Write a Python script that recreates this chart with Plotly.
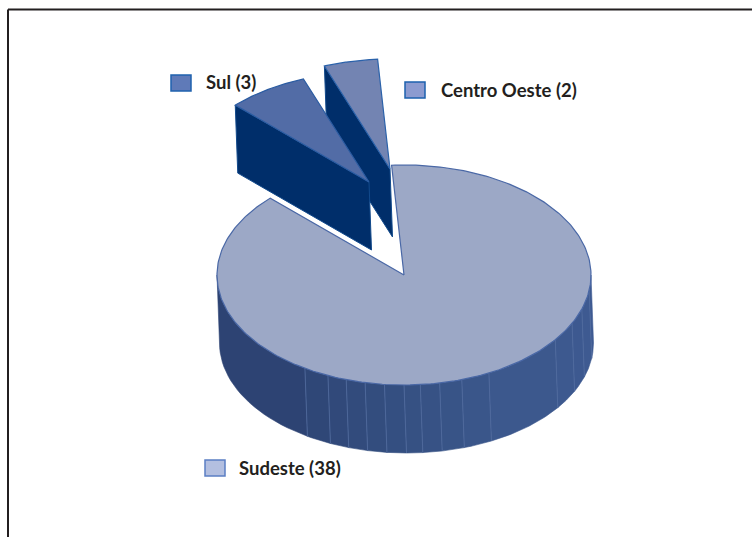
import numpy as np
import plotly.graph_objects as go

# Regional counts, drawn clockwise from the top of the pie
regions = ["Sudeste", "Sul", "Centro Oeste"]
counts = [38, 3, 2]

# Angles (degrees clockwise from the bottom of the pie) where the rim has a facet seam
rim_seams = [-32, -24, -18, -12, -6, 0, 5, 11, 18, 27, 54, 64, 72, 82]

FIRST_EDGE = -3.8          # clockwise angle of the first slice edge, from the top
CX, CY = 404.0, 275.0      # centre of the main top face
RX, RY = 187.0, 110.0      # radii of the projected top face
DROP = (2.5, 68.0)         # offset from the top face to the bottom face

# Per-slice styling and explode offset relative to the pie centre
pull = {"Sudeste": (0, 0), "Sul": (-35, -93), "Centro Oeste": (-14, -106)}
top_fill = {"Sudeste": "#9ca8c6", "Sul": "#526ca6", "Centro Oeste": "#7384b2"}
top_edge = {"Sudeste": "#4a68a6", "Sul": "#2b5ca2", "Centro Oeste": "#2b62aa"}
WALL_NAVY = "#002e6a"

# Legend keys: left, top, right, bottom, fill, border
key_box = {
    "Sul": (171, 75, 191, 91, "#5f7ab8", "#1f62ae"),
    "Centro Oeste": (405, 82, 425, 98, "#8c9bd0", "#1c62ae"),
    "Sudeste": (205, 460, 225, 476, "#b3bfe0", "#5b7fc4"),
}
label_at = {"Sul": (206, 82), "Centro Oeste": (441, 90), "Sudeste": (239, 468)}


def rim(cx, cy, a_from, a_to, n=80):
    """Points along the projected circle between two clockwise angles."""
    a = np.radians(np.linspace(a_from, a_to, n))
    return cx + RX * np.sin(a), cy - RY * np.cos(a)


def polygon(xs, ys, fill, line=None, width=1.0):
    return go.Scatter(
        x=list(xs), y=list(ys), mode="lines", fill="toself", fillcolor=fill,
        line=dict(color=line or fill, width=width), hoverinfo="skip", showlegend=False,
    )


def mix(t):
    """Rim colour, darker on the left of the pie and lighter on the right."""
    stops = [-90, -30, 0, 30, 90]
    r = np.interp(t, stops, [44, 47, 53, 60, 62])
    g = np.interp(t, stops, [64, 70, 80, 88, 90])
    b = np.interp(t, stops, [112, 118, 130, 140, 146])
    return f"rgb({r:.0f},{g:.0f},{b:.0f})"


# Slice extents follow directly from the counts
total = sum(counts)
span = {}
start = FIRST_EDGE
for name, count in zip(regions, counts):
    span[name] = (start, start + 360.0 * count / total)
    start = span[name][1]

traces = []

# Pulled-out slices, back one first: the cut wall on the counter-clockwise edge, then the top
for name in ["Centro Oeste", "Sul"]:
    a0, a1 = span[name]
    a0, a1 = a0 - 360, a1 - 360
    ax, ay = CX + pull[name][0], CY + pull[name][1]
    ex, ey = rim(ax, ay, a0, a0, 2)
    wall_x = [ex[0], ax, ax + DROP[0], ex[0] + DROP[0], ex[0]]
    wall_y = [ey[0], ay, ay + DROP[1], ey[0] + DROP[1], ey[0]]
    traces.append(polygon(wall_x, wall_y, WALL_NAVY, "#124a8c", 1.0))
    rx, ry = rim(ax, ay, a0, a1)
    traces.append(polygon([ax, *rx, ax], [ay, *ry, ay], top_fill[name], top_edge[name], 1.2))

# Main slice: rim facets along the visible front half, split at the seams
edges = [-90] + rim_seams + [90]
for lo, hi in zip(edges[:-1], edges[1:]):
    tx, ty = rim(CX, CY, 180 - lo, 180 - hi, 24)
    bx, by = tx + DROP[0], ty + DROP[1]
    traces.append(polygon([*tx, *bx[::-1], tx[0]], [*ty, *by[::-1], ty[0]],
                          mix((lo + hi) / 2), None, 0.6))
for seam in rim_seams:
    tx, ty = rim(CX, CY, 180 - seam, 180 - seam, 2)
    traces.append(go.Scatter(
        x=[tx[0], tx[0] + DROP[0]], y=[ty[0], ty[0] + DROP[1]], mode="lines",
        line=dict(color="#526c9f", width=0.8), hoverinfo="skip", showlegend=False,
    ))

a0, a1 = span["Sudeste"]
rx, ry = rim(CX, CY, a0, a1, 300)
traces.append(polygon([CX, *rx, CX], [CY, *ry, CY], top_fill["Sudeste"], top_edge["Sudeste"], 1.2))

fig = go.Figure(traces)

# Legend keys and their labels sit next to the pie rather than in a box
for name in regions:
    x0, y0, x1, y1, fill, border = key_box[name]
    fig.add_shape(type="rect", x0=x0, y0=y0, x1=x1, y1=y1, fillcolor=fill,
                  line=dict(color=border, width=1.5), layer="above")
    lx, ly = label_at[name]
    fig.add_annotation(
        x=lx, y=ly, text=f"{name} ({counts[regions.index(name)]})", showarrow=False,
        xanchor="left", yanchor="middle", xshift=-2,
        font=dict(family="Lato", size=18.5, color="#231f20", weight=700),
    )

# Frame along the top and left of the page
frame = dict(color="#231f20", width=2)
fig.add_shape(type="line", x0=8, y0=9.5, x1=752, y1=9.5, line=frame)
fig.add_shape(type="line", x0=8, y0=9.5, x1=8, y1=537, line=frame)

fig.update_layout(
    width=752, height=537, margin=dict(l=0, r=0, t=0, b=0),
    paper_bgcolor="white", plot_bgcolor="white", showlegend=False,
    xaxis=dict(range=[0, 752], visible=False, fixedrange=True),
    yaxis=dict(range=[537, 0], visible=False, fixedrange=True),
)
fig.write_html("out.html", config={"displayModeBar": False})
